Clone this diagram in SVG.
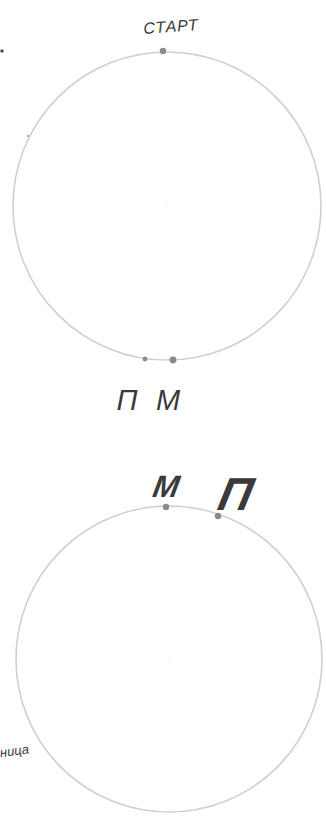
<svg xmlns="http://www.w3.org/2000/svg" width="326" height="820" viewBox="0 0 326 820">
<style>
.ring{fill:none;stroke:#cfcfcf;stroke-width:1.6}
.dot{fill:#8a8a8a}
.lbl{font-family:"Liberation Sans",Arial,sans-serif;font-style:italic;fill:#3a3a3a}
.ctr{fill:#e4e4e4}
</style>
<rect width="326" height="820" fill="#ffffff"/>
<g id="circle-top">
<circle class="ring" cx="167" cy="206" r="154"/>
<circle class="ctr" cx="166" cy="206" r="0.8"/>
</g>
<g id="point-start">
<circle class="dot" cx="163" cy="51" r="3.2"/>
<text class="lbl" x="171" y="32" font-size="16" letter-spacing="1" text-anchor="middle" transform="rotate(-4 171 26)">СТАРТ</text>
</g>
<g id="mark-left">
<circle cx="28" cy="136" r="1" fill="#999"/>
<circle cx="2" cy="51" r="1.8" fill="#555"/>
</g>
<g id="point-p-top">
<circle class="dot" cx="145" cy="359" r="2.4"/>
<text class="lbl" x="127" y="410" font-size="29" text-anchor="middle">П</text>
</g>
<g id="point-m-top">
<circle class="dot" cx="173" cy="360" r="3.4"/>
<text class="lbl" x="168" y="410" font-size="29" text-anchor="middle">М</text>
</g>
<g id="circle-bottom">
<circle class="ring" cx="169" cy="659" r="153"/>
<circle class="ctr" cx="170" cy="659" r="0.8"/>
</g>
<g id="point-m-bottom">
<circle class="dot" cx="166" cy="507" r="3.2"/>
<text class="lbl" x="166" y="497" font-size="31" text-anchor="middle" font-weight="bold" transform="skewX(-10)" dx="86">М</text>
</g>
<g id="point-p-bottom">
<circle class="dot" cx="218" cy="516" r="3.2"/>
<text class="lbl" x="341" y="510" font-size="46" text-anchor="middle" font-weight="bold" transform="skewX(-12)">П</text>
</g>
<g id="label-left">
<text class="lbl" x="0" y="755" font-size="13" transform="rotate(-8 16 752)">ница</text>
</g>
<g id="connectors"></g>
</svg>
